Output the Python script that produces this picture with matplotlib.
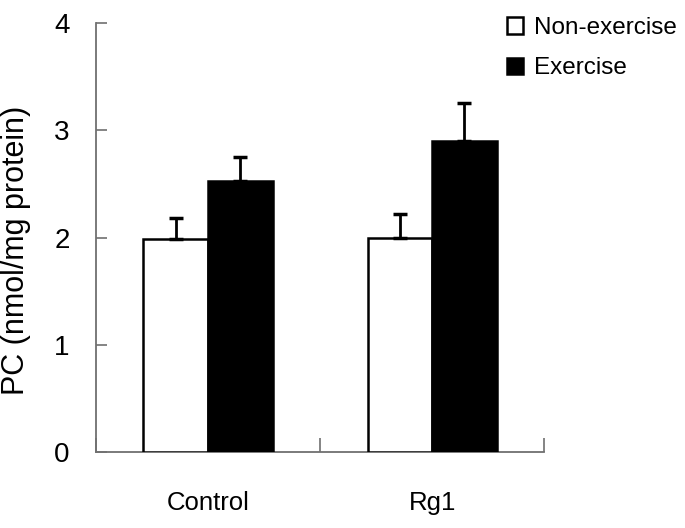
import matplotlib.pyplot as plt
import numpy as np

plt.rcParams['font.family'] = ['Liberation Sans', 'DejaVu Sans']

groups = ['Control', 'Rg1']
non_exercise = [1.99, 2.00]
non_exercise_err = [0.19, 0.22]
exercise = [2.53, 2.90]
exercise_err = [0.22, 0.35]

x = np.arange(len(groups))
w = 0.288

fig = plt.figure(figsize=(6.85, 5.28), dpi=100)
ax = fig.add_axes([0.1401, 0.1436, 0.6545, 0.8128])

err_kw = dict(ecolor='black', elinewidth=2, capsize=5, capthick=2.5)
b1 = ax.bar(x - w / 2, non_exercise, w, color='white', edgecolor='black', linewidth=1.8,
            yerr=[np.zeros(2), non_exercise_err], error_kw=err_kw, label='Non-exercise', zorder=3)
b2 = ax.bar(x + w / 2, exercise, w, color='black', edgecolor='black', linewidth=1.8,
            yerr=[np.zeros(2), exercise_err], error_kw=err_kw, label='Exercise', zorder=3)

ax.set_xlim(-0.5, 1.5)
ax.set_ylim(0, 4)
ax.set_yticks([0, 1, 2, 3, 4])
ax.set_xticks(x)
ax.set_xticklabels(groups, fontsize=18.5)
ax.set_xticks([-0.5, 0.5, 1.5], minor=True)
ax.tick_params(axis='x', which='major', length=0, pad=28)
ax.tick_params(axis='x', which='minor', direction='in', length=10, width=1.2, color='#707070')
ax.tick_params(axis='y', direction='in', length=8, width=1.2, color='#707070', labelsize=20, pad=19)

for s in ['top', 'right']:
    ax.spines[s].set_visible(False)
for s in ['left', 'bottom']:
    ax.spines[s].set_color('#707070')
    ax.spines[s].set_linewidth(1.3)

ax.set_ylabel('PC (nmol/mg protein)', fontsize=22)
ax.yaxis.set_label_coords(-0.145, 0.47)

fig.legend(handles=[b1, b2], labels=['Non-exercise', 'Exercise'], loc='upper left',
           bbox_to_anchor=(0.715, 1.0), frameon=False, fontsize=17.5,
           handlelength=0.65, handleheight=0.65, handletextpad=0.45, labelspacing=0.75,
           borderaxespad=0.3)

fig.savefig('out.png', dpi=100)
